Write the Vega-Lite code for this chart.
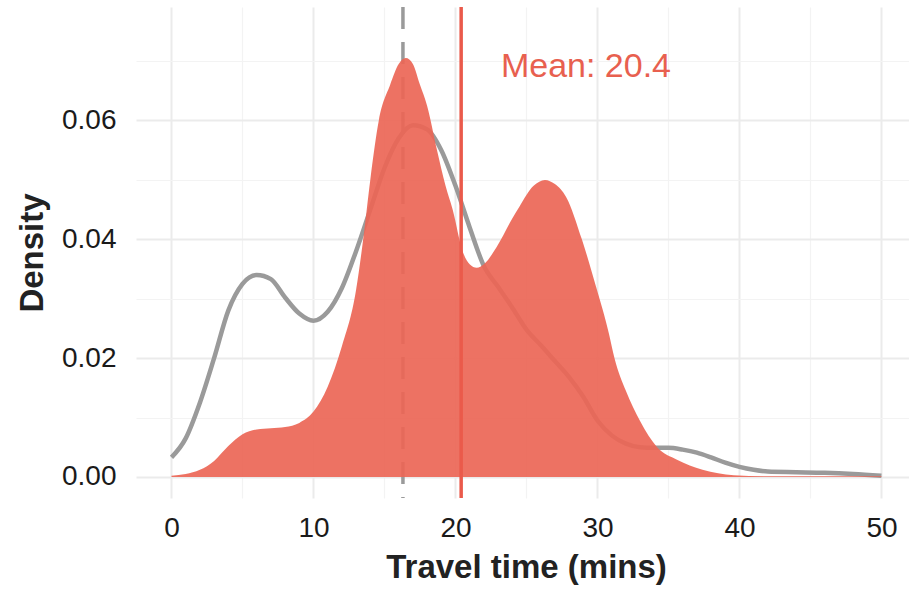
{
  "$schema": "https://vega.github.io/schema/vega-lite/v6.json",
  "autosize": {"type": "none"},
  "width": 773,
  "height": 491,
  "padding": {"left": 136, "top": 7, "right": 0, "bottom": 91},
  "background": "white",
  "config": {
    "view": {"stroke": null},
    "font": "Liberation Sans"
  },
  "datasets": {
    "grey": [
      {"t": 0, "d": 0.0033}, {"t": 1, "d": 0.0065}, {"t": 2, "d": 0.0125}, {"t": 3, "d": 0.0200},
      {"t": 4, "d": 0.0280}, {"t": 5, "d": 0.0325}, {"t": 6, "d": 0.0340}, {"t": 7, "d": 0.0333},
      {"t": 8, "d": 0.0302}, {"t": 9, "d": 0.0275}, {"t": 10, "d": 0.0263}, {"t": 11, "d": 0.0278},
      {"t": 12, "d": 0.0318}, {"t": 13, "d": 0.0380}, {"t": 14, "d": 0.0450}, {"t": 15, "d": 0.0520},
      {"t": 16, "d": 0.0570}, {"t": 17, "d": 0.0592}, {"t": 18, "d": 0.0585}, {"t": 19, "d": 0.0550},
      {"t": 20, "d": 0.0490}, {"t": 21, "d": 0.0420}, {"t": 22, "d": 0.0355}, {"t": 23, "d": 0.0320},
      {"t": 24, "d": 0.0285}, {"t": 25, "d": 0.0248}, {"t": 26, "d": 0.0222}, {"t": 27, "d": 0.0195},
      {"t": 28, "d": 0.0168}, {"t": 29, "d": 0.0135}, {"t": 30, "d": 0.0095}, {"t": 31, "d": 0.0070},
      {"t": 32, "d": 0.0056}, {"t": 33, "d": 0.0050}, {"t": 34, "d": 0.0049}, {"t": 35, "d": 0.0049},
      {"t": 36, "d": 0.0046}, {"t": 37, "d": 0.0041}, {"t": 38, "d": 0.0033}, {"t": 39, "d": 0.0024},
      {"t": 40, "d": 0.0017}, {"t": 41, "d": 0.0012}, {"t": 42, "d": 0.0009}, {"t": 44, "d": 0.0008},
      {"t": 46, "d": 0.0007}, {"t": 48, "d": 0.0005}, {"t": 50, "d": 0.0002}
    ],
    "red": [
      {"t": 0, "d": 0.0002}, {"t": 1, "d": 0.0005}, {"t": 2, "d": 0.0012}, {"t": 3, "d": 0.0027},
      {"t": 4, "d": 0.0052}, {"t": 5, "d": 0.0072}, {"t": 6, "d": 0.0080}, {"t": 7, "d": 0.0082},
      {"t": 8, "d": 0.0084}, {"t": 9, "d": 0.0091}, {"t": 10, "d": 0.0110}, {"t": 11, "d": 0.0152},
      {"t": 12, "d": 0.0220}, {"t": 13, "d": 0.0315}, {"t": 13.5, "d": 0.0400}, {"t": 14, "d": 0.0500},
      {"t": 14.6, "d": 0.0600}, {"t": 15.4, "d": 0.0660}, {"t": 16, "d": 0.0695}, {"t": 16.5, "d": 0.0705},
      {"t": 17, "d": 0.0695}, {"t": 17.5, "d": 0.0660}, {"t": 18, "d": 0.0625}, {"t": 18.7, "d": 0.0550},
      {"t": 19.3, "d": 0.0490}, {"t": 19.8, "d": 0.0450}, {"t": 20.5, "d": 0.0380}, {"t": 21, "d": 0.0358},
      {"t": 21.5, "d": 0.0352}, {"t": 22, "d": 0.0358}, {"t": 22.9, "d": 0.0387}, {"t": 24, "d": 0.0435},
      {"t": 24.5, "d": 0.0455}, {"t": 25.5, "d": 0.0490}, {"t": 26.3, "d": 0.0500}, {"t": 27, "d": 0.0493},
      {"t": 27.8, "d": 0.0471}, {"t": 28.9, "d": 0.0400}, {"t": 29.9, "d": 0.0320}, {"t": 30.8, "d": 0.0242},
      {"t": 31.2, "d": 0.0200}, {"t": 32, "d": 0.0145}, {"t": 33, "d": 0.0094}, {"t": 34.2, "d": 0.0050},
      {"t": 35.6, "d": 0.0029}, {"t": 37.4, "d": 0.0012}, {"t": 39.6, "d": 0.0003}, {"t": 42, "d": 0.0001},
      {"t": 50, "d": 0.0001}
    ],
    "median": [{"t": 16.3}],
    "mean": [{"t": 20.4}],
    "label": [{"t": 23.2, "d": 0.0690, "text": "Mean: 20.4"}]
  },
  "layer": [
    {
      "data": {"name": "grey"},
      "mark": {"type": "line", "color": "#9A9A9A", "strokeWidth": 4.5, "interpolate": "monotone", "clip": true},
      "encoding": {
        "x": {
          "field": "t", "type": "quantitative",
          "scale": {"domain": [-2.5, 51.94], "nice": false, "zero": false},
          "axis": {
            "values": [0, 5, 10, 15, 20, 25, 30, 35, 40, 45, 50],
            "labelExpr": "datum.value % 10 === 0 ? datum.label : ''",
            "title": "Travel time (mins)",
            "titleFont": "Liberation Sans", "titleFontSize": 33, "titleFontWeight": "bold", "titleColor": "#222222",
            "titleX": 390, "titlePadding": 9,
            "labelFont": "Liberation Sans", "labelFontSize": 28, "labelColor": "#1a1a1a", "labelPadding": 16,
            "domain": false, "ticks": false,
            "grid": true,
            "gridColor": {"condition": {"test": "datum.value % 10 === 0", "value": "#EBEBEB"}, "value": "#F3F3F3"},
            "gridWidth": {"condition": {"test": "datum.value % 10 === 0", "value": 2}, "value": 1.2}
          }
        },
        "y": {
          "field": "d", "type": "quantitative",
          "scale": {"domain": [-0.00354, 0.0791], "nice": false, "zero": false},
          "axis": {
            "values": [0, 0.01, 0.02, 0.03, 0.04, 0.05, 0.06, 0.07],
            "format": ".2f",
            "labelExpr": "round(datum.value * 100) % 2 === 0 ? datum.label : ''",
            "title": "Density",
            "titleFont": "Liberation Sans", "titleFontSize": 33, "titleFontWeight": "bold", "titleColor": "#222222",
            "titlePadding": 12,
            "labelFont": "Liberation Sans", "labelFontSize": 28, "labelColor": "#1a1a1a", "labelPadding": 20,
            "domain": false, "ticks": false,
            "grid": true,
            "gridColor": {"condition": {"test": "round(datum.value * 100) % 2 === 0", "value": "#EBEBEB"}, "value": "#F3F3F3"},
            "gridWidth": {"condition": {"test": "round(datum.value * 100) % 2 === 0", "value": 2}, "value": 1.2}
          }
        }
      }
    },
    {
      "data": {"name": "median"},
      "mark": {"type": "rule", "color": "#9A9A9A", "strokeWidth": 3.5, "strokeDash": [22, 13]},
      "encoding": {"x": {"field": "t", "type": "quantitative"}}
    },
    {
      "data": {"name": "red"},
      "mark": {"type": "area", "color": "#EC6656", "opacity": 0.92, "interpolate": "monotone"},
      "encoding": {
        "x": {"field": "t", "type": "quantitative"},
        "y": {"field": "d", "type": "quantitative"}
      }
    },
    {
      "data": {"name": "mean"},
      "mark": {"type": "rule", "color": "#EA5A4B", "strokeWidth": 3.5},
      "encoding": {"x": {"field": "t", "type": "quantitative"}}
    },
    {
      "data": {"name": "label"},
      "mark": {"type": "text", "color": "#E8604F", "fontSize": 34, "font": "Liberation Sans", "align": "left", "baseline": "middle"},
      "encoding": {
        "x": {"field": "t", "type": "quantitative"},
        "y": {"field": "d", "type": "quantitative"},
        "text": {"field": "text"}
      }
    }
  ]
}
